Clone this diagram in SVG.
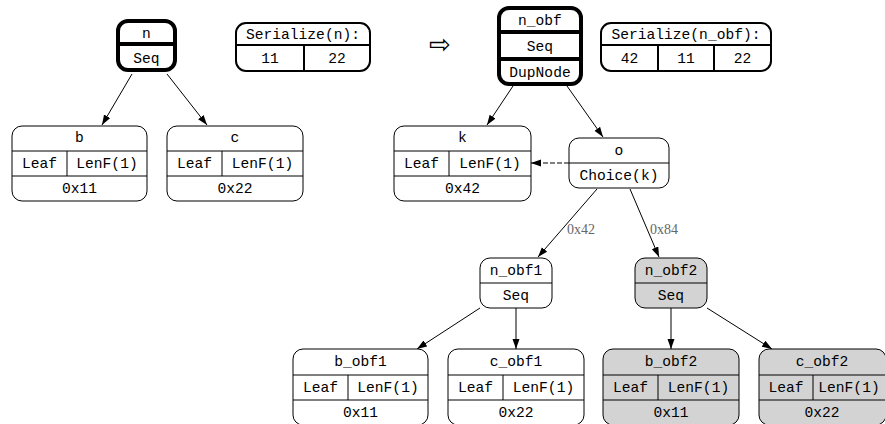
<svg xmlns="http://www.w3.org/2000/svg" width="885" height="424" viewBox="0 0 885 424">
<defs>
<style>
text{font-family:"Liberation Mono",monospace;font-size:14.6px;text-anchor:middle;fill:#000}
.box{fill:#fff;stroke:#000;stroke-width:1}
.gray .box{fill:#d3d3d3}
.thick{stroke-width:4}
.mid{stroke-width:2}
.ln{stroke:#000;stroke-width:1;fill:none}
.thick-ln{stroke:#000;stroke-width:4;fill:none}
.mid-ln{stroke:#000;stroke-width:2;fill:none}
.edge{stroke:#000;stroke-width:1;fill:none;marker-end:url(#ah)}
.dash{stroke-dasharray:5,2}
.elab{font-family:"Liberation Serif",serif;font-size:14px;fill:#666;text-anchor:start}
</style>
<marker id="ah" markerUnits="userSpaceOnUse" markerWidth="10" markerHeight="8" refX="10" refY="3.5" orient="auto">
<path d="M0,0 L10,3.5 L0,7 z" fill="#000"/>
</marker>
</defs>
<rect width="885" height="424" fill="#fff"/>

<g id="connectors">
<path class="edge" d="M132,74 L102,125"/>
<path class="edge" d="M167,74 L207,125"/>
<path class="edge" d="M513,86 L487,125"/>
<path class="edge" d="M567,86 L603,137"/>
<path class="edge dash" d="M569,163 L531,163"/>
<path class="edge" d="M597,189 L538,257"/>
<path class="edge" d="M630,189 L659,257"/>
<path class="edge" d="M480,308 L417,349"/>
<path class="edge" d="M516,308 L516,349"/>
<path class="edge" d="M671,308 L671,349"/>
<path class="edge" d="M707,308 L772,349"/>
<text class="elab" x="567" y="234">0x42</text>
<text class="elab" x="650" y="234">0x84</text>
</g>

<g id="node-n">
<rect class="box thick" x="118" y="21" width="57" height="49" rx="10"/>
<path class="thick-ln" d="M118,44 H175"/>
<text x="146.5" y="38">n</text>
<text x="146.5" y="63">Seq</text>
</g>

<g id="ser-n">
<rect class="box mid" x="236" y="23" width="134" height="48" rx="10"/>
<path class="mid-ln" d="M236,45 H370 M304,45 V71"/>
<text x="303" y="39">Serialize(n):</text>
<text x="270" y="63">11</text>
<text x="337" y="63">22</text>
</g>

<text id="arrow-sym" x="440" y="53" style="font-family:'DejaVu Sans',sans-serif;font-size:26px">⇨</text>

<g id="node-n_obf">
<rect class="box thick" x="499" y="8" width="82" height="76" rx="10"/>
<path class="thick-ln" d="M499,32 H581 M499,59 H581"/>
<text x="540" y="25">n_obf</text>
<text x="540" y="51">Seq</text>
<text x="540" y="77">DupNode</text>
</g>

<g id="ser-n_obf">
<rect class="box mid" x="601" y="23" width="170" height="48" rx="10"/>
<path class="mid-ln" d="M601,45 H771 M658,45 V71 M714,45 V71"/>
<text x="686" y="39">Serialize(n_obf):</text>
<text x="629.5" y="63">42</text>
<text x="686" y="63">11</text>
<text x="742.5" y="63">22</text>
</g>

<g id="node-b">
<rect class="box" x="12" y="126" width="135" height="75" rx="10"/>
<path class="ln" d="M12,151 H147 M12,176 H147 M67,151 V176"/>
<text x="79.5" y="142">b</text>
<text x="39.5" y="168">Leaf</text>
<text x="107" y="168">LenF(1)</text>
<text x="79.5" y="193">0x11</text>
</g>

<g id="node-c">
<rect class="box" x="167" y="126" width="136" height="75" rx="10"/>
<path class="ln" d="M167,151 H303 M167,176 H303 M222,151 V176"/>
<text x="235" y="142">c</text>
<text x="194.5" y="168">Leaf</text>
<text x="262.5" y="168">LenF(1)</text>
<text x="235" y="193">0x22</text>
</g>

<g id="node-k">
<rect class="box" x="394" y="126" width="137" height="75" rx="10"/>
<path class="ln" d="M394,151 H531 M394,176 H531 M449,151 V176"/>
<text x="462.5" y="142">k</text>
<text x="421.5" y="168">Leaf</text>
<text x="490" y="168">LenF(1)</text>
<text x="462.5" y="193">0x42</text>
</g>

<g id="node-o">
<rect class="box" x="569" y="138" width="100" height="50" rx="10"/>
<path class="ln" d="M569,163 H669"/>
<text x="619" y="155">o</text>
<text x="619" y="180">Choice(k)</text>
</g>

<g id="node-n_obf1">
<rect class="box" x="480" y="258" width="72" height="50" rx="10"/>
<path class="ln" d="M480,283 H552"/>
<text x="516" y="275">n_obf1</text>
<text x="516" y="300">Seq</text>
</g>

<g id="node-n_obf2" class="gray">
<rect class="box" x="635" y="258" width="72" height="50" rx="10"/>
<path class="ln" d="M635,283 H707"/>
<text x="671" y="275">n_obf2</text>
<text x="671" y="300">Seq</text>
</g>

<g id="node-b_obf1">
<rect class="box" x="293" y="349" width="135" height="76" rx="10"/>
<path class="ln" d="M293,375 H428 M293,400 H428 M348,375 V400"/>
<text x="360.5" y="366">b_obf1</text>
<text x="320.5" y="392">Leaf</text>
<text x="388" y="392">LenF(1)</text>
<text x="360.5" y="417">0x11</text>
</g>

<g id="node-c_obf1">
<rect class="box" x="448" y="349" width="136" height="76" rx="10"/>
<path class="ln" d="M448,375 H584 M448,400 H584 M503,375 V400"/>
<text x="516" y="366">c_obf1</text>
<text x="475.5" y="392">Leaf</text>
<text x="543.5" y="392">LenF(1)</text>
<text x="516" y="417">0x22</text>
</g>

<g id="node-b_obf2" class="gray">
<rect class="box" x="603" y="349" width="136" height="76" rx="10"/>
<path class="ln" d="M603,375 H739 M603,400 H739 M658,375 V400"/>
<text x="671" y="366">b_obf2</text>
<text x="630.5" y="392">Leaf</text>
<text x="698.5" y="392">LenF(1)</text>
<text x="671" y="417">0x11</text>
</g>

<g id="node-c_obf2" class="gray">
<rect class="box" x="759" y="349" width="127" height="76" rx="10"/>
<path class="ln" d="M759,375 H886 M759,400 H886 M813,375 V400"/>
<text x="822" y="366">c_obf2</text>
<text x="786" y="392">Leaf</text>
<text x="849" y="392">LenF(1)</text>
<text x="822" y="417">0x22</text>
</g>
</svg>
